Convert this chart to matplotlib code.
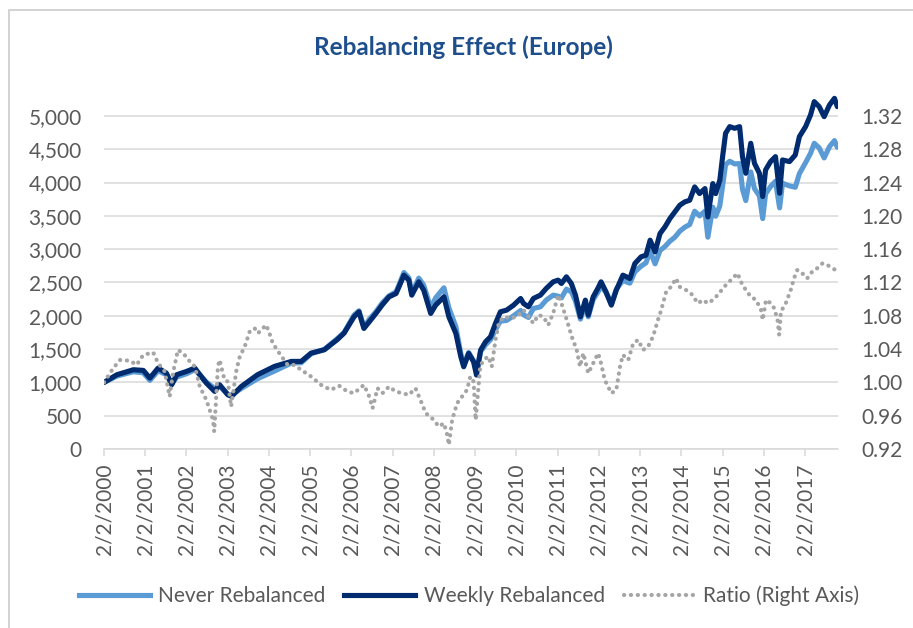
import matplotlib
matplotlib.use("Agg")
import matplotlib.pyplot as plt
from matplotlib.patches import Rectangle
from matplotlib.lines import Line2D
from matplotlib.ticker import FuncFormatter

plt.rcParams['font.family'] = ['Lato', 'DejaVu Sans']

# ---------------- data (decimal years) ----------------
dates = [2000.09, 2000.40, 2000.80, 2001.04, 2001.20, 2001.40, 2001.60, 2001.73, 2001.85, 2002.09,
         2002.29, 2002.41, 2002.57, 2002.77, 2002.89, 2003.09, 2003.18, 2003.42, 2003.81, 2004.22,
         2004.63, 2004.87, 2005.11, 2005.43, 2005.74, 2005.91, 2006.15, 2006.27, 2006.39, 2006.52,
         2006.68, 2006.83, 2007.00, 2007.17, 2007.24, 2007.36, 2007.48, 2007.55, 2007.72, 2007.84,
         2008.01, 2008.13, 2008.33, 2008.45, 2008.62, 2008.74, 2008.81, 2008.93, 2009.05, 2009.12,
         2009.22, 2009.34, 2009.46, 2009.58, 2009.70, 2009.85, 2010.02, 2010.19, 2010.26, 2010.38,
         2010.50, 2010.67, 2010.81, 2010.98, 2011.10, 2011.18, 2011.30, 2011.42, 2011.52, 2011.64,
         2011.76, 2011.83, 2011.95, 2012.07, 2012.14, 2012.26, 2012.39, 2012.51, 2012.67, 2012.84,
         2012.96, 2013.11, 2013.23, 2013.33, 2013.45, 2013.57, 2013.69, 2013.81, 2013.93, 2014.05,
         2014.17, 2014.29, 2014.41, 2014.53, 2014.66, 2014.73, 2014.85, 2014.92, 2015.02, 2015.09,
         2015.16, 2015.26, 2015.38, 2015.50, 2015.57, 2015.65, 2015.77, 2015.86, 2015.98, 2016.06,
         2016.13, 2016.25, 2016.37, 2016.47, 2016.54, 2016.71, 2016.85, 2016.95, 2017.10, 2017.22,
         2017.31, 2017.43, 2017.55, 2017.68, 2017.80, 2017.87]

weekly_rebalanced = [1000, 1115, 1190, 1180, 1065, 1215, 1140, 965, 1115, 1165,
                     1215, 1115, 990, 865, 965, 815, 790, 940, 1115, 1240,
                     1315, 1315, 1440, 1490, 1640, 1740, 1985, 2060, 1810, 1910,
                     2035, 2160, 2285, 2335, 2435, 2610, 2535, 2310, 2510, 2385,
                     2035, 2160, 2285, 1985, 1735, 1385, 1235, 1435, 1310, 1110,
                     1485, 1610, 1685, 1885, 2060, 2085, 2160, 2260, 2185, 2135,
                     2260, 2310, 2410, 2510, 2535, 2485, 2585, 2485, 2310, 1985,
                     2235, 2010, 2285, 2420, 2510, 2360, 2160, 2385, 2610, 2560,
                     2785, 2885, 2910, 3135, 2960, 3235, 3335, 3460, 3560, 3660,
                     3710, 3735, 3935, 3835, 3910, 3485, 3985, 3835, 4035, 4400,
                     4740, 4840, 4815, 4840, 4390, 4140, 4590, 4290, 4140, 3790,
                     4190, 4315, 4390, 3840, 4340, 4315, 4415, 4690, 4840, 5015,
                     5215, 5140, 4990, 5165, 5265, 5140]

never_rebalanced = [1000, 1095, 1160, 1145, 1030, 1175, 1115, 980, 1080, 1130,
                    1190, 1115, 1005, 910, 950, 815, 810, 910, 1055, 1170,
                    1290, 1295, 1430, 1495, 1655, 1750, 2010, 2075, 1825, 1950,
                    2060, 2190, 2300, 2360, 2465, 2650, 2570, 2335, 2565, 2460,
                    2120, 2270, 2420, 2120, 1835, 1430, 1255, 1450, 1320, 1150,
                    1460, 1565, 1640, 1790, 1920, 1930, 2000, 2080, 2015, 1975,
                    2110, 2135, 2235, 2310, 2295, 2270, 2400, 2360, 2220, 1950,
                    2165, 1985, 2245, 2360, 2450, 2350, 2180, 2400, 2530, 2490,
                    2660, 2745, 2795, 2970, 2780, 2980, 3040, 3120, 3180, 3270,
                    3330, 3370, 3570, 3500, 3570, 3180, 3630, 3495, 3650, 3960,
                    4270, 4320, 4280, 4285, 3900, 3730, 4160, 3910, 3800, 3460,
                    3830, 3940, 4020, 3620, 3990, 3950, 3930, 4135, 4300, 4440,
                    4590, 4520, 4370, 4540, 4630, 4530]

ratio_dates = [2000.09, 2000.31, 2000.48, 2000.72, 2000.88, 2001.04, 2001.28, 2001.40, 2001.56, 2001.68,
               2001.76, 2001.88, 2002.01, 2002.17, 2002.29, 2002.41, 2002.57, 2002.73, 2002.76, 2002.85,
               2002.89, 2003.01, 2003.09, 2003.17, 2003.30, 2003.38, 2003.50, 2003.62, 2003.74, 2003.82,
               2004.02, 2004.10, 2004.18, 2004.34, 2004.54, 2004.70, 2004.87, 2005.11, 2005.35, 2005.59,
               2005.79, 2005.99, 2006.15, 2006.39, 2006.52, 2006.60, 2006.72, 2006.84, 2007.00, 2007.16,
               2007.32, 2007.48, 2007.64, 2007.76, 2007.89, 2008.04, 2008.21, 2008.33, 2008.41, 2008.45,
               2008.53, 2008.65, 2008.77, 2008.89, 2008.97, 2009.05, 2009.10, 2009.17, 2009.21, 2009.29,
               2009.41, 2009.49, 2009.58, 2009.66, 2009.78, 2009.94, 2010.10, 2010.26, 2010.38, 2010.50,
               2010.62, 2010.74, 2010.86, 2010.98, 2011.10, 2011.18, 2011.31, 2011.43, 2011.55, 2011.63,
               2011.71, 2011.83, 2011.91, 2012.07, 2012.14, 2012.23, 2012.31, 2012.39, 2012.51, 2012.60,
               2012.67, 2012.80, 2012.92, 2013.04, 2013.16, 2013.28, 2013.40, 2013.52, 2013.60, 2013.72,
               2013.84, 2013.96, 2014.04, 2014.20, 2014.32, 2014.49, 2014.61, 2014.73, 2014.85, 2014.97,
               2015.13, 2015.25, 2015.37, 2015.45, 2015.53, 2015.65, 2015.77, 2015.90, 2016.02, 2016.06,
               2016.14, 2016.26, 2016.34, 2016.42, 2016.46, 2016.50, 2016.62, 2016.74, 2016.82, 2016.90,
               2017.02, 2017.14, 2017.26, 2017.38, 2017.51, 2017.63, 2017.75, 2017.83]

ratio = [1.000, 1.017, 1.027, 1.026, 1.021, 1.033, 1.036, 1.023, 1.013, 0.983,
         1.011, 1.039, 1.035, 1.025, 1.019, 0.995, 0.979, 0.955, 0.941, 1.019,
         1.027, 1.003, 1.001, 0.971, 1.015, 1.031, 1.043, 1.061, 1.065, 1.059,
         1.069, 1.059, 1.047, 1.035, 1.021, 1.021, 1.015, 1.007, 0.997, 0.991,
         0.996, 0.989, 0.987, 0.997, 0.983, 0.969, 0.993, 0.987, 0.995, 0.989,
         0.987, 0.985, 0.993, 0.979, 0.963, 0.957, 0.947, 0.951, 0.937, 0.925,
         0.955, 0.975, 0.983, 0.991, 1.007, 1.001, 0.955, 0.995, 1.019, 1.027,
         1.031, 1.019, 1.051, 1.071, 1.079, 1.077, 1.079, 1.087, 1.079, 1.071,
         1.081, 1.079, 1.069, 1.083, 1.105, 1.095, 1.075, 1.055, 1.039, 1.019,
         1.035, 1.011, 1.019, 1.035, 1.023, 1.003, 0.995, 0.987, 0.991, 1.019,
         1.033, 1.027, 1.047, 1.051, 1.039, 1.043, 1.055, 1.075, 1.087, 1.109,
         1.115, 1.125, 1.115, 1.111, 1.107, 1.095, 1.099, 1.095, 1.099, 1.105,
         1.115, 1.121, 1.127, 1.131, 1.121, 1.111, 1.103, 1.099, 1.087, 1.075,
         1.099, 1.095, 1.089, 1.075, 1.057, 1.085, 1.095, 1.111, 1.125, 1.135,
         1.131, 1.125, 1.133, 1.137, 1.143, 1.141, 1.137, 1.135]

tick_years = list(range(2000, 2018))
tick_labels = [f"2/2/{y}" for y in tick_years]
left_ticks = list(range(0, 5001, 500))
right_ticks = [0.92, 0.96, 1.00, 1.04, 1.08, 1.12, 1.16, 1.20, 1.24, 1.28, 1.32]

# ---------------- styling ----------------
C_NEVER = '#5B9BD5'
C_WEEKLY = '#002B6E'
C_RATIO = '#A5A5A5'
C_TEXT = '#595959'
C_GRID = '#D9D9D9'
FS = 15
LW = 3.7
DOT = (0, (0.05, 1.6))

W, H = 913, 628
fig = plt.figure(figsize=(W / 100, H / 100), dpi=100)

# chart border
fig.patches.append(Rectangle((9 / W, -0.1), 2.0, (H - 10.5) / H + 0.1, transform=fig.transFigure,
                             fill=False, edgecolor='#D0D0D0', lw=1.3, zorder=0))

ax = fig.add_axes([104 / W, (H - 449) / H, (838 - 104) / W, (449 - 92) / H])
ax.patch.set_alpha(0)
ax2 = ax.twinx()

ax.plot(dates, never_rebalanced, color=C_NEVER, lw=LW, solid_joinstyle='round',
        solid_capstyle='round', zorder=3)
ax.plot(dates, weekly_rebalanced, color=C_WEEKLY, lw=LW, solid_joinstyle='round',
        solid_capstyle='round', zorder=4)
ax2.plot(ratio_dates, ratio, color=C_RATIO, lw=3.0, linestyle=DOT,
         dash_capstyle='round', zorder=5)

tick_pos = [y + 32 / 365.25 for y in tick_years]
ax.set_xlim(2000 + 32 / 365.25, 2017.886)
ax.set_ylim(0, 5360)
ax2.set_ylim(0.92, 1.3488)

ax.set_yticks(left_ticks)
ax.yaxis.set_major_formatter(FuncFormatter(lambda v, p: f"{int(v):,}"))
ax2.set_yticks(right_ticks)
ax2.set_yticklabels([f"{v:.2f}" for v in right_ticks])

ax.set_xticks(tick_pos)
ax.set_xticklabels(tick_labels, rotation=90, va='top', ha='center')

ax.yaxis.grid(True, color=C_GRID, lw=1.1)
ax.set_axisbelow(True)

for s in ['top', 'left', 'right']:
    ax.spines[s].set_visible(False)
    ax2.spines[s].set_visible(False)
ax2.spines['bottom'].set_visible(False)
ax.spines['bottom'].set_color(C_GRID)
ax.spines['bottom'].set_linewidth(1.1)

ax.tick_params(axis='y', length=0, pad=16, labelsize=FS, labelcolor=C_TEXT)
ax2.tick_params(axis='y', length=0, pad=17, labelsize=FS, labelcolor=C_TEXT)
ax.tick_params(axis='x', length=5, width=1.1, color=C_GRID, pad=5.5, labelsize=FS,
               labelcolor=C_TEXT, direction='out')

fig.text(463 / W, (H - 47) / H, "Rebalancing Effect (Europe)", ha='center', va='center',
         fontsize=17.5, fontweight='bold', color='#1F4E8C')

handles = [Line2D([], [], color=C_NEVER, lw=LW),
           Line2D([], [], color=C_WEEKLY, lw=LW),
           Line2D([], [], color=C_RATIO, lw=3.0, linestyle=DOT, dash_capstyle='round')]
fig.legend(handles, ["Never Rebalanced", "Weekly Rebalanced", "Ratio (Right Axis)"],
           loc='center', bbox_to_anchor=(469 / W, (H - 596) / H), ncol=3, frameon=False,
           fontsize=FS, labelcolor=C_TEXT, handlelength=3.4, handletextpad=0.4,
           columnspacing=0.9)

fig.savefig("out.png", dpi=100)
